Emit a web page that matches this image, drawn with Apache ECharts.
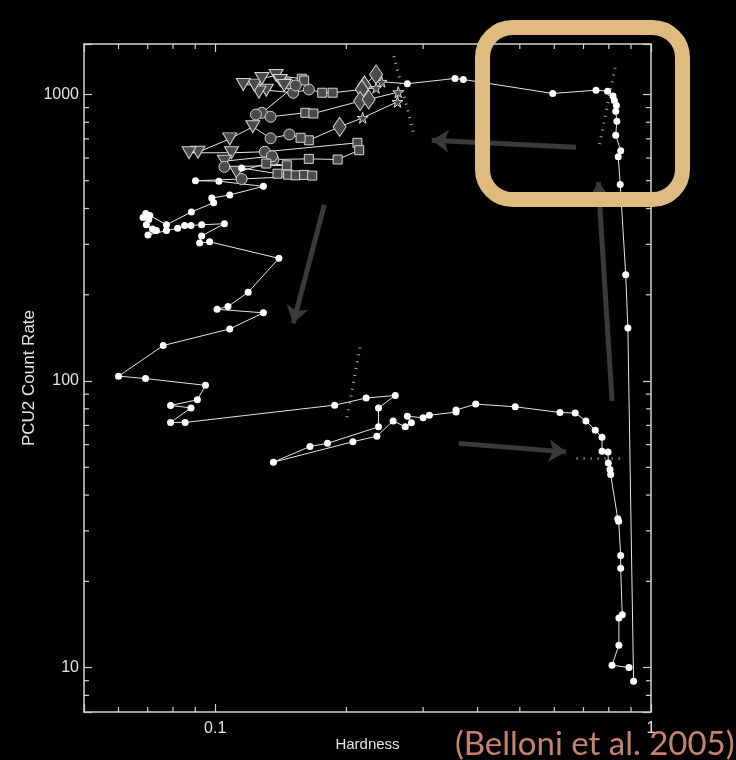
<!DOCTYPE html>
<html><head><meta charset="utf-8">
<script src="https://cdn.jsdelivr.net/npm/echarts@6/dist/echarts.min.js"></script>
<style>html,body{margin:0;padding:0;background:#000;}#c{width:736px;height:760px;}</style>
</head><body><div id="c"></div>
<script>
// ---- data ----
const hardness = [
 0.912,0.885,0.875,0.850,0.841,0.852,0.830,0.835,0.830,0.833,0.824,0.818,0.795,0.748,0.595,0.371,0.355,0.276,
 0.241,0.234,0.220,0.234,0.217,0.186,0.176,0.164,0.151,0.131,0.126,0.123,0.116,0.128,0.138,0.158,0.160,0.147,0.141,0.144,0.153,
 0.128,0.124,0.134,0.161,0.168,0.215,0.225,0.263,0.262,0.218,0.193,0.164,0.157,0.148,0.134,0.122,0.108,0.0913,0.0871,0.109,0.130,
 0.212,0.214,0.191,0.164,0.136,0.135,0.105,0.105,0.146,0.131,0.112,0.115,0.139,0.147,0.153,0.160,0.167,0.115,
 0.0901,0.102,0.129,0.108,0.0982,0.0992,0.0882,0.0773,0.0708,0.0693,0.0683,0.0704,0.0695,0.0718,0.0733,0.0701,0.0773,0.0820,0.0851,0.0880,0.0931,0.105,0.0931,0.0921,0.0971,
 0.140,0.119,0.107,0.101,0.129,0.108,0.0760,0.0600,0.0692,0.0950,0.0910,0.0790,0.0880,0.0790,0.0853,
 0.188,0.222,0.259,0.237,0.237,0.181,0.165,0.136,0.207,0.235,0.256,0.273,0.282,0.276,0.300,0.310,0.357,0.357,0.396,0.488,0.618,0.670,0.709,0.745,0.772,0.772,0.797,0.798,0.805,0.808,0.839,0.843,0.852,0.852,0.859,0.844,0.844,0.814,0.890
];
const rate = [
 8.96,153,235,485,606,636,721,807,874,915,953,988,1027,1035,1008,1128,1137,1090,
 1108,1175,1075,1055,1041,1014,1014,1041,1014,1035,1019,1078,1084,1137,1165,1135,1119,1093,1119,1075,1075,
 863,851,836,863,858,948,961,1019,943,829,771,692,706,725,703,771,700,629,626,626,631,
 678,639,593,596,593,609,585,559,566,574,535,554,529,525,522,524,521,507,
 500,498,478,446,435,419,389,351,378,384,372,366,351,339,335,323,335,341,349,349,351,354,321,303,306,
 268,204,182,178,173,152,133,104,102,96.6,86.0,82.2,80.6,71.7,71.7,
 82.4,87.2,89.1,80.6,69.2,60.6,59.1,52.1,61.4,64.2,72.6,69.2,71.5,75.4,74.4,76.0,77.9,79.2,83.1,81.3,77.7,77.3,72.6,67.4,63.6,56.9,56.5,51.8,49.1,47.2,33.1,32.4,24.6,22.2,15.3,14.9,11.97,10.2,10.0
];
// W = plain dot, T = down triangle, C = circle, S = square, D = diamond, R = star
const markerGroups = [
 'WWWWWWWWWWWWWWWWWW',
 'RDDRDSSCCTTTTTTSSCTTC',
 'CCCSSDDRRRDSSCCTTTTTC',
 'SSSSCCTCSSTWSSSSSC',
 'WWWWWWWWWWWWWWWWWWWWWWWWW',
 'WWWWWWWWWWWWWWW',
 'WWWWWWWWWWWWWWWWWWWWWWWWWWWWWWWWWWWWWWW'
];
const markers = markerGroups.join('').split('');
const xTickLabels = ['0.1', '1'];
const yTickLabels = ['10', '100', '1000'];
const xMinorTicks = [0.06,0.07,0.08,0.09,0.2,0.3,0.4,0.5,0.6,0.7,0.8,0.9];
const yMinorTicks = [8,9,20,30,40,50,60,70,80,90,200,300,400,500,600,700,800,900];
const X_MIN = 0.05, X_MAX = 1, Y_MIN = 7, Y_MAX = 1500;
// arrows: [fromX, fromY, toX, toY] in data units
const arrows = [[0.673,654,0.314,692],[0.178,412,0.151,159],[0.362,60.6,0.638,56.6],[0.814,85.3,0.757,495]];
// dotted transition lines
const transitions = [[0.257,1361,0.286,721],[0.827,1240,0.760,656],[0.215,131,0.200,72.6],[0.675,53.9,0.849,53.9]];

// ---- styles ----
const AX = '#d2d2d2';
const TXT = '#e4e4e4';
const FONT = 'Liberation Sans';
const grey = {color:'#4a4a4a', borderColor:'#d6d6d6', borderWidth:1};
const STAR = 'path://M50,0L61,35L98,35L68,57L79,91L50,70L21,91L32,57L2,35L39,35Z';
const symbolStyle = {
  W: {symbol:'circle', symbolSize:7, itemStyle:{color:'#ffffff', borderWidth:0}},
  T: {symbol:'path://M0,0L12,0L6,10Z', symbolSize:[14,12], itemStyle:grey},
  C: {symbol:'circle', symbolSize:11, itemStyle:grey},
  S: {symbol:'rect', symbolSize:9, itemStyle:grey},
  D: {symbol:'diamond', symbolSize:[13,19], itemStyle:grey},
  R: {symbol:STAR, symbolSize:11, itemStyle:grey}
};
const track = hardness.map((h, i) => Object.assign({value:[h, rate[i]]}, symbolStyle[markers[i]]));

function fmt(list) {
  return v => { const s = String(parseFloat(Number(v).toPrecision(3))); return list.includes(s) ? s : ''; };
}
function baseX(pos) {
  return {type:'log', logBase:10, min:X_MIN, max:X_MAX, position:pos,
    axisLine:{onZero:false, lineStyle:{color:AX, width:1.5}},
    axisTick:{inside:true, length:8, lineStyle:{color:AX, width:1.2}},
    splitLine:{show:false}, minorTick:{show:false}};
}
function baseY(pos) {
  return {type:'log', logBase:10, min:Y_MIN, max:Y_MAX, position:pos,
    axisLine:{onZero:false, lineStyle:{color:AX, width:1.5}},
    axisTick:{inside:true, length:8, lineStyle:{color:AX, width:1.2}},
    splitLine:{show:false}, minorTick:{show:false}};
}
const xBottom = Object.assign(baseX('bottom'), {
  name:'Hardness', nameLocation:'middle', nameGap:25, nameMoveOverlap:false,
  nameTextStyle:{color:TXT, fontSize:15, fontFamily:FONT},
  axisLabel:{color:TXT, fontSize:16, fontFamily:FONT, margin:9, formatter:fmt(xTickLabels)}
});
const xTop = Object.assign(baseX('top'), {axisLabel:{show:false}});
const yLeft = Object.assign(baseY('left'), {
  name:'PCU2 Count Rate', nameLocation:'middle', nameGap:46, nameMoveOverlap:false,
  nameTextStyle:{color:TXT, fontSize:17, fontFamily:FONT},
  axisLabel:{color:TXT, fontSize:16, fontFamily:FONT, margin:5, formatter:fmt(yTickLabels)}
});
const yRight = Object.assign(baseY('right'), {axisLabel:{show:false}});

function minorX(params, api) {
  const v = api.value(0);
  const b = api.coord([v, Y_MIN]);
  const t = api.coord([v, Y_MAX]);
  return {type:'group', children:[
    {type:'line', shape:{x1:b[0], y1:b[1], x2:b[0], y2:b[1]-5}, style:{stroke:AX, lineWidth:1.2}},
    {type:'line', shape:{x1:t[0], y1:t[1], x2:t[0], y2:t[1]+5}, style:{stroke:AX, lineWidth:1.2}}
  ]};
}
function minorY(params, api) {
  const v = api.value(1);
  const l = api.coord([X_MIN, v]);
  const r = api.coord([X_MAX, v]);
  return {type:'group', children:[
    {type:'line', shape:{x1:l[0], y1:l[1], x2:l[0]+5, y2:l[1]}, style:{stroke:AX, lineWidth:1.2}},
    {type:'line', shape:{x1:r[0], y1:r[1], x2:r[0]-5, y2:r[1]}, style:{stroke:AX, lineWidth:1.2}}
  ]};
}

const chart = echarts.init(document.getElementById('c'), null, {renderer:'canvas'});
chart.setOption({
  backgroundColor:'#000000',
  animation:false,
  grid:{left:84, right:85, top:44, bottom:48, containLabel:false, outerBoundsMode:'none'},
  xAxis:[xBottom, xTop],
  yAxis:[yLeft, yRight],
  series:[
    {type:'custom', xAxisIndex:0, yAxisIndex:0, data:xMinorTicks.map(v => [v, Y_MIN]), renderItem:minorX, clip:false, silent:true, z:5},
    {type:'custom', xAxisIndex:0, yAxisIndex:0, data:yMinorTicks.map(v => [X_MIN, v]), renderItem:minorY, clip:false, silent:true, z:5},
    {type:'lines', coordinateSystem:'cartesian2d', xAxisIndex:0, yAxisIndex:0, silent:true, z:1,
      data:arrows.map(a => ({coords:[[a[0], a[1]], [a[2], a[3]]]})),
      symbol:['none', 'arrow'], symbolSize:17,
      lineStyle:{color:'#3a3a3a', width:5, opacity:1, curveness:0}},
    {type:'lines', coordinateSystem:'cartesian2d', xAxisIndex:0, yAxisIndex:0, silent:true, z:1,
      data:transitions.map(a => ({coords:[[a[0], a[1]], [a[2], a[3]]]})),
      symbol:['none', 'none'],
      lineStyle:{color:'#a8a8a8', width:3, opacity:1, type:[1, 6], curveness:0}},
    {type:'line', xAxisIndex:0, yAxisIndex:0, data:track, showAllSymbol:true, showSymbol:true,
      lineStyle:{color:'#e6e6e6', width:1}, z:3, silent:true, clip:false}
  ],
  graphic:[
    {type:'rect', z:100, silent:true,
      shape:{x:482.5, y:27.5, width:200, height:172, r:30},
      style:{fill:'none', stroke:'#dfbb7f', lineWidth:15}},
    {type:'text', z:100, silent:true, x:455, y:745, scaleX:1.03,
      style:{text:'(Belloni et al. 2005)', fill:'#c6846f', font:'32px Lato', verticalAlign:'middle', align:'left'}}
  ]
});
</script>
</body></html>
